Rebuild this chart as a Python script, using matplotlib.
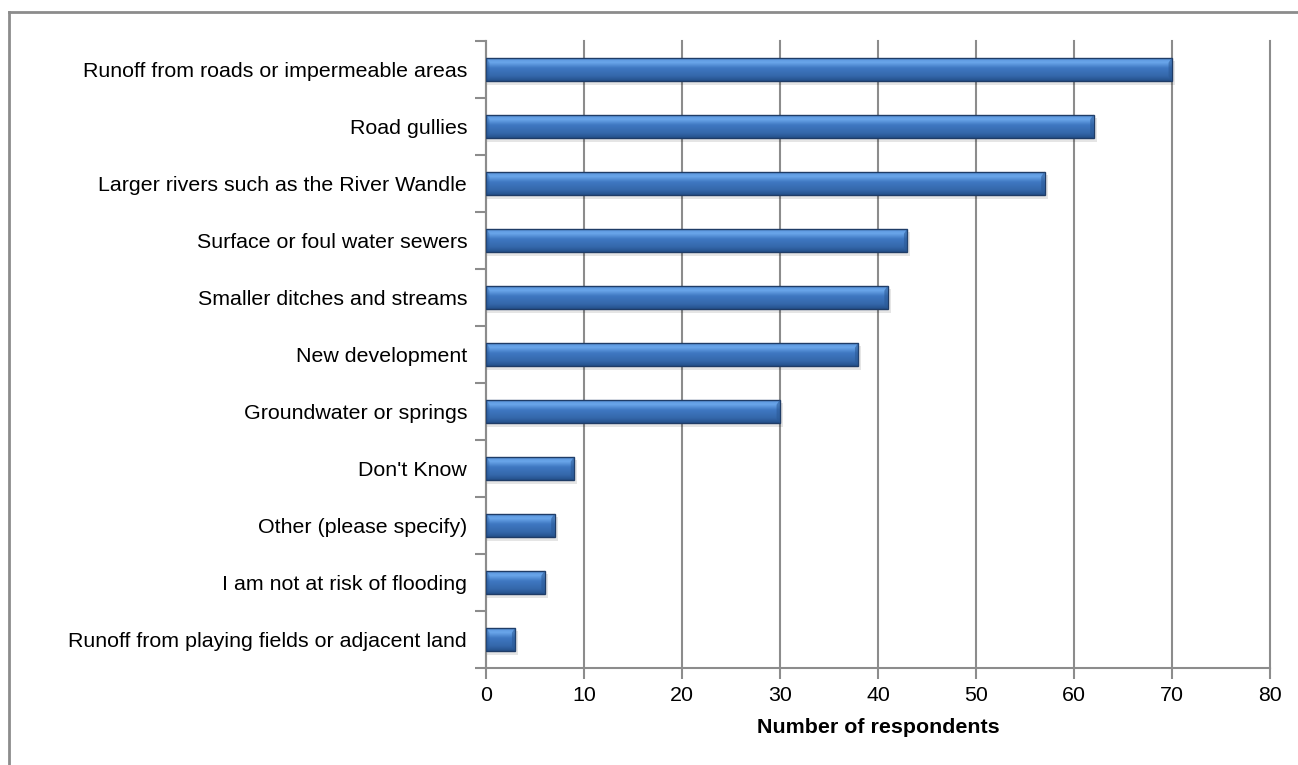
import numpy as np
import matplotlib
matplotlib.use("Agg")
import matplotlib.pyplot as plt
from matplotlib.colors import LinearSegmentedColormap
from matplotlib.lines import Line2D

plt.rcParams['font.family'] = ['Liberation Sans', 'DejaVu Sans']

# Data (top to bottom as shown)
categories = [
    "Runoff from roads or impermeable areas",
    "Road gullies",
    "Larger rivers such as the River Wandle",
    "Surface or foul water sewers",
    "Smaller ditches and streams",
    "New development",
    "Groundwater or springs",
    "Don't Know",
    "Other (please specify)",
    "I am not at risk of flooding",
    "Runoff from playing fields or adjacent land",
]
respondents = [70, 62, 57, 43, 41, 38, 30, 9, 7, 6, 3]
x_ticks = [0, 10, 20, 30, 40, 50, 60, 70, 80]

fig = plt.figure(figsize=(12.98, 7.65), dpi=100)
ax = fig.add_axes([486 / 1298, 1 - 668 / 765, (1270 - 486) / 1298, (668 - 41) / 765])

# figure frame (only top and left edge visible in the source)
fig.add_artist(Line2D([9 / 1298, 9 / 1298], [0, 1 - 12 / 765], transform=fig.transFigure,
                      color='#8c8c8c', lw=2))
fig.add_artist(Line2D([9 / 1298, 1], [1 - 12 / 765, 1 - 12 / 765], transform=fig.transFigure,
                      color='#8c8c8c', lw=2))

n = len(categories)
ypos = np.arange(n)[::-1]
h = 0.42

# vertical gradient for the bevelled bar look
grad_cmap = LinearSegmentedColormap.from_list(
    "bar", [(0.0, '#24508a'), (0.2, '#3467aa'), (0.55, '#3f78c2'), (0.78, '#6aa6ea'), (0.9, '#5f9ae0'), (1.0, '#3d74bd')])
grad = np.linspace(0, 1, 64).reshape(-1, 1)

for y, v in zip(ypos, respondents):
    # soft shadow
    ax.barh(y - 0.06, v + 0.25, height=h, left=0.05, color='#000000', alpha=0.10, zorder=2, lw=0)
    im = ax.imshow(grad, cmap=grad_cmap, aspect='auto', origin='lower',
                   extent=(0, v, y - h / 2, y + h / 2), zorder=3, interpolation='bilinear')
    bar = ax.barh(y, v, height=h, facecolor='none', edgecolor='#1f3c66', lw=1.0, zorder=4)
    im.set_clip_path(bar.patches[0])
    # bevels on both ends
    bw = min(0.35, v / 2)
    ax.fill([v - bw, v, v, v - bw], [y - h / 2 + 0.09, y - h / 2, y + h / 2, y + h / 2 - 0.09],
            color='#2a5894', alpha=0.55, zorder=4, lw=0)
    ax.fill([0, bw, bw, 0], [y - h / 2, y - h / 2 + 0.09, y + h / 2 - 0.09, y + h / 2],
            color='#2a5894', alpha=0.35, zorder=4, lw=0)

ax.set_xlim(0, 80)
ax.set_ylim(-0.5, n - 0.5)
ax.set_xticks(x_ticks)
ax.set_xticklabels([str(t) for t in x_ticks], fontsize=15.4)
ax.set_yticks(ypos)
ax.set_yticklabels(categories, fontsize=15.4)
ax.set_yticks(np.arange(-0.5, n, 1.0), minor=True)
ax.tick_params(axis='y', which='major', length=0, pad=13.5)
ax.tick_params(axis='y', which='minor', length=8, width=1.5, color='#8c8c8c')
ax.tick_params(axis='x', length=8, width=1.5, color='#8c8c8c', pad=5)

ax.grid(axis='x', color='#8c8c8c', lw=1.5, zorder=0)
for gl in ax.get_xgridlines():
    gl.set_clip_on(False)
ax.set_axisbelow(True)
for s in ['top', 'right']:
    ax.spines[s].set_visible(False)
for s in ['left', 'bottom']:
    ax.spines[s].set_color('#8c8c8c')
    ax.spines[s].set_linewidth(1.5)

ax.set_xlabel("Number of respondents", fontsize=15.4, fontweight='bold', labelpad=9)

fig.savefig("out.png", dpi=100)
